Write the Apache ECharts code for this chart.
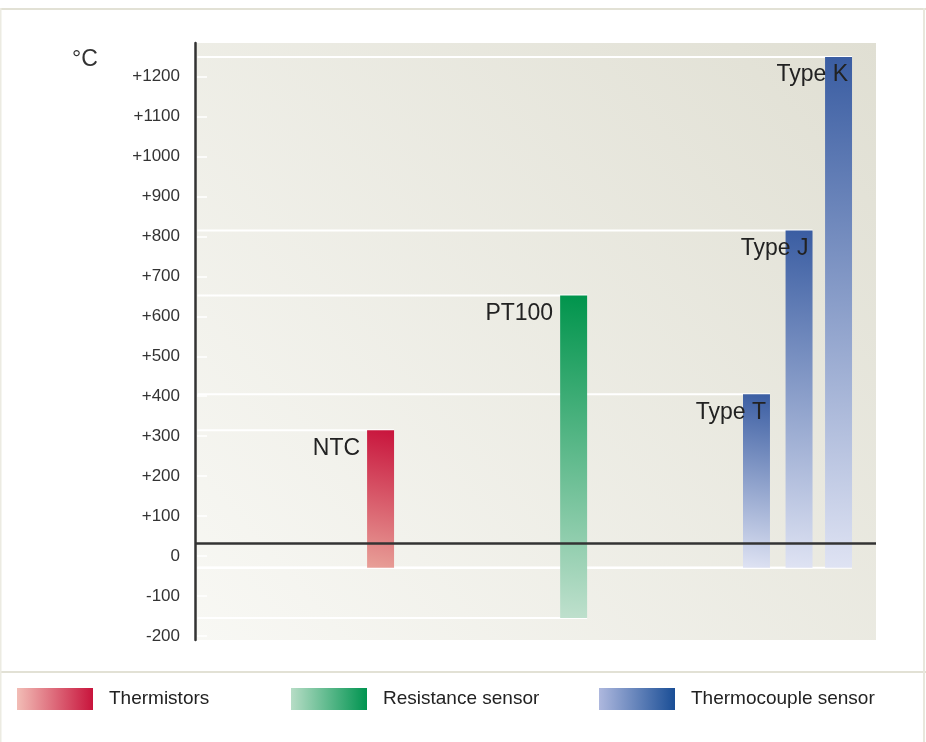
<!DOCTYPE html>
<html>
<head>
<meta charset="utf-8">
<script src="https://cdn.jsdelivr.net/npm/echarts@6/dist/echarts.min.js"></script>
<style>
  html, body { margin: 0; padding: 0; background: #ffffff; }
  #chart { width: 926px; height: 742px; }
</style>
</head>
<body>
<div id="chart"></div>
<script>
// ---- data ----
const sensors   = ['NTC', 'PT100', 'Type T', 'Type J', 'Type K'];
const groups    = ['Thermistors', 'Resistance sensor', 'Thermocouple sensor', 'Thermocouple sensor', 'Thermocouple sensor'];
const rangeLow  = [-29, -155, -29, -29, -29];
const rangeHigh = [315, 652, 405, 815, 1249];
const tickValues = [-200, -100, 0, 100, 200, 300, 400, 500, 600, 700, 800, 900, 1000, 1100, 1200];
const referenceLine = 32;   // dark horizontal line drawn across the plot
const unitLabel = '°C';

// ---- layout / style ----
const slotPos = [27.25, 55.6, 82.45, 88.7, 94.5];   // horizontal slot of each bar on hidden 0..100 axis
const barWidthUnits = 3.96;
const FONT = 'Liberation Sans, Arial, Helvetica, sans-serif';

const groupStyle = {
  'Thermistors':         { dark: '#c8143c', light: '#e8a098', legendLight: '#f2bdb6', legendDark: '#c8143c', labelInside: false },
  'Resistance sensor':   { dark: '#00944c', light: '#bfe0cd', legendLight: '#b7ddc6', legendDark: '#009450', labelInside: false },
  'Thermocouple sensor': { dark: '#3a5da2', light: '#dfe3f3', legendLight: '#aeb8de', legendDark: '#1a4e96', labelInside: true }
};
const groupNames = ['Thermistors', 'Resistance sensor', 'Thermocouple sensor'];

function barGradient(st) {
  return new echarts.graphic.LinearGradient(0, 1, 1, 0, [
    { offset: 0, color: st.light },
    { offset: 1, color: st.dark }
  ]);
}
function legendGradient(st) {
  return new echarts.graphic.LinearGradient(0, 0, 1, 0, [
    { offset: 0, color: st.legendLight },
    { offset: 1, color: st.legendDark }
  ]);
}

function makeRender(gname) {
  const st = groupStyle[gname];
  return function (params, api) {
    const x = api.value(0), lo = api.value(1), hi = api.value(2);
    const name = sensors[api.value(3)];
    const pTop = api.coord([x, hi]);
    const pBot = api.coord([x, lo]);
    const w = api.size([barWidthUnits, 0])[0];
    const left = pTop[0] - w / 2, right = pTop[0] + w / 2;
    const gx = params.coordSys.x + 2.5;
    const tx = st.labelInside ? right - 4 : left - 7;
    return {
      type: 'group',
      children: [
        { type: 'line', z2: 0, shape: { x1: gx, y1: pTop[1], x2: right, y2: pTop[1] }, style: { stroke: '#ffffff', lineWidth: 2 } },
        { type: 'line', z2: 0, shape: { x1: gx, y1: pBot[1], x2: right, y2: pBot[1] }, style: { stroke: '#ffffff', lineWidth: 2 } },
        { type: 'rect', z2: 10, shape: { x: left, y: pTop[1], width: w, height: pBot[1] - pTop[1] }, style: { fill: barGradient(st) } },
        { type: 'text', z2: 20, style: { text: name, x: tx, y: pTop[1] + 18, align: 'right', verticalAlign: 'middle', font: '23px ' + FONT, fill: '#222222' } }
      ]
    };
  };
}

const series = groupNames.map(function (g, gi) {
  const data = [];
  sensors.forEach(function (s, i) {
    if (groups[i] === g) data.push([slotPos[i], rangeLow[i], rangeHigh[i], i]);
  });
  const s = {
    type: 'custom',
    name: g,
    renderItem: makeRender(g),
    data: data,
    itemStyle: { color: legendGradient(groupStyle[g]) },
    encode: { x: 0, y: [1, 2] },
    silent: true
  };
  if (gi === 0) {
    s.markLine = {
      silent: true,
      symbol: ['none', 'none'],
      label: { show: false },
      lineStyle: { color: '#333333', width: 2.5, type: 'solid' },
      data: [{ yAxis: referenceLine }]
    };
  }
  return s;
});

const legendLeft = [17, 291, 599];
const legends = groupNames.map(function (g, i) {
  return {
    left: legendLeft[i],
    top: 688,
    padding: 0,
    orient: 'horizontal',
    selectedMode: false,
    itemWidth: 76,
    itemHeight: 22,
    data: [{ name: g, icon: 'rect', itemStyle: { color: legendGradient(groupStyle[g]) } }],
    textStyle: { fontFamily: FONT, fontSize: 19, color: '#222222', padding: [0, 0, 0, 11] }
  };
});

const chart = echarts.init(document.getElementById('chart'), null, { renderer: 'canvas' });
chart.setOption({
  animation: false,
  backgroundColor: '#ffffff',
  title: {
    text: unitLabel, left: 67, top: 43,
    textStyle: { fontFamily: FONT, fontSize: 23, fontWeight: 'normal', color: '#333333' }
  },
  graphic: [
    { type: 'rect', shape: { x: 0, y: 8, width: 926, height: 2 }, style: { fill: '#e2e1d5' }, silent: true },
    { type: 'rect', shape: { x: 0, y: 671, width: 926, height: 2 }, style: { fill: '#e2e1d5' }, silent: true },
    { type: 'rect', shape: { x: 923, y: 8, width: 2, height: 734 }, style: { fill: '#e8e7dc' }, silent: true },
    { type: 'rect', shape: { x: 0, y: 8, width: 1.5, height: 734 }, style: { fill: '#ecebe2' }, silent: true }
  ],
  grid: {
    left: 195, right: 50, top: 43, bottom: 102,
    show: true, borderWidth: 0,
    backgroundColor: new echarts.graphic.LinearGradient(0, 1, 1, 0, [
      { offset: 0, color: '#f8f8f4' },
      { offset: 1, color: '#e0dfd3' }
    ])
  },
  legend: legends,
  xAxis: { type: 'value', min: 0, max: 100, show: false },
  yAxis: [
    {
      type: 'value', min: -210, max: 1284,
      axisLine: { show: true, lineStyle: { color: '#333333', width: 2.5 } },
      axisTick: { show: false },
      axisLabel: {
        customValues: tickValues, margin: 15, color: '#333333', fontFamily: FONT, fontSize: 17,
        formatter: function (v) { return v > 0 ? '+' + v : String(v); }
      },
      splitLine: { show: false }
    },
    {
      type: 'value', min: -210, max: 1284, position: 'left', offset: -2,
      axisLine: { show: false },
      axisLabel: { show: false },
      axisTick: { show: true, inside: true, length: 10, customValues: tickValues, lineStyle: { color: '#ffffff', width: 1.5 } },
      splitLine: { show: false }
    }
  ],
  series: series
});
</script>
</body>
</html>
